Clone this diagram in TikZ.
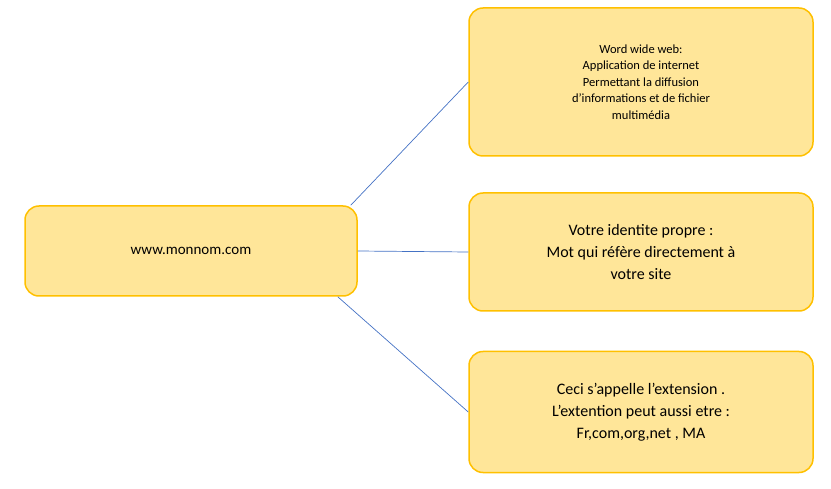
\documentclass[tikz,border=0pt]{standalone}
\usepackage{fontspec}
\setmainfont{Carlito}
\definecolor{boxfill}{HTML}{FFE699}
\definecolor{boxdraw}{HTML}{FFC000}
\definecolor{linec}{HTML}{4472C4}
\begin{document}
\begin{tikzpicture}[x=1pt,y=-1pt,
  box/.style={draw=boxdraw,fill=boxfill,line width=1.5pt,rounded corners=14pt,align=center},
  conn/.style={draw=linec,line width=0.7pt}]
\useasboundingbox (0,0) rectangle (831,489);
\node[box,minimum width=332pt,minimum height=90pt,font=\fontsize{15}{18}\selectfont] (m) at (191,251) {www.monnom.com};
\node[box,minimum width=344pt,minimum height=148pt,font=\fontsize{12.5}{16.5}\selectfont] (a) at (641,82) {Word wide web:\\Application de internet\\Permettant la diffusion\\d’informations et de fichier\\multimédia};
\node[box,minimum width=344pt,minimum height=118pt,font=\fontsize{16}{22}\selectfont] (b) at (641,252) {Votre identite propre :\\Mot qui réfère directement à\\votre site};
\node[box,minimum width=344pt,minimum height=121pt,font=\fontsize{16}{22}\selectfont] (c) at (641,412) {Ceci s’appelle l’extension .\\L’extention peut aussi etre :\\Fr,com,org,net , MA};
\draw[conn] (m.north east)++(-7,0) coordinate (m1) -- (a.west);
\draw[conn] (m.east) -- (b.west);
\draw[conn] (m.south east)++(-20,0) coordinate (m3) -- (c.west);
\end{tikzpicture}
\end{document}
